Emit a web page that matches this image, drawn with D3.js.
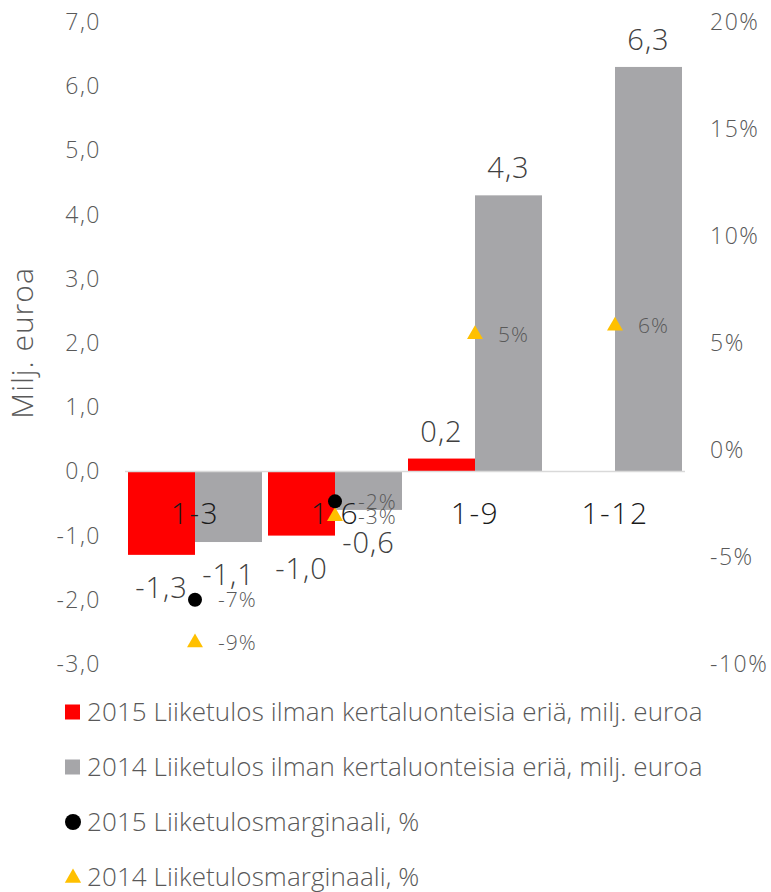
<!DOCTYPE html>
<html>
<head>
<meta charset="utf-8">
<script src="https://cdn.jsdelivr.net/npm/d3@7"></script>
<style>
  body { margin: 0; background: #fff; }
  svg text { font-family: "Open Sans", Lato, sans-serif; font-weight: 300; }
</style>
</head>
<body>
<svg id="chart" width="771" height="892"></svg>
<script>
// Chart data
const categories = ['1-3', '1-6', '1-9', '1-12'];
const tulos2015 = [-1.3, -1.0, 0.2, null];
const tulos2014 = [-1.1, -0.6, 4.3, 6.3];
const marginaali2015 = [-0.07, -0.024, null, null];
const marginaali2014 = [-0.09, -0.031, 0.054, 0.058];
const marginaaliLabels2015 = ['-7%', '-2%', null, null];
const marginaaliLabels2014 = ['-9%', '-3%', '5%', '6%'];
const leftTicks = [-3, -2, -1, 0, 1, 2, 3, 4, 5, 6, 7];
const rightTicks = [-0.10, -0.05, 0, 0.05, 0.10, 0.15, 0.20];
const legendItems = [
  { label: '2015 Liiketulos ilman kertaluonteisia eriä, milj. euroa', type: 'rect', color: '#ff0000' },
  { label: '2014 Liiketulos ilman kertaluonteisia eriä, milj. euroa', type: 'rect', color: '#a6a6a9' },
  { label: '2015 Liiketulosmarginaali, %', type: 'circle', color: '#000000' },
  { label: '2014 Liiketulosmarginaali, %', type: 'triangle', color: '#ffc000' },
];

const locale = d3.formatLocale({
  decimal: ',', thousands: ' ', grouping: [3], currency: ['', ' €'], minus: '-',
});
const fmt1 = locale.format('.1f');
const fmtPct = locale.format('.0%');

const svg = d3.select('#chart');
const textColor = '#595959';

// Scales
const x0 = d3.scaleBand().domain(categories).range([125, 685]).padding(0);
const x1 = d3.scaleBand().domain(['2015', '2014']).range([3, x0.bandwidth() - 3]);
const yLeft = d3.scaleLinear().domain([-3, 7]).range([664, 22]);
const yRight = d3.scaleLinear().domain([-0.10, 0.20]).range([664, 22]);

// Left axis labels
svg.append('g')
  .selectAll('text')
  .data(leftTicks)
  .join('text')
  .attr('x', 101)
  .attr('y', (d) => yLeft(d))
  .attr('dy', '0.35em')
  .attr('text-anchor', 'end')
  .style('font-size', '23px')
  .style('letter-spacing', '1.5px')
  .style('fill', textColor)
  .text((d) => fmt1(d));

// Right axis labels
svg.append('g')
  .selectAll('text')
  .data(rightTicks)
  .join('text')
  .attr('x', 710)
  .attr('y', (d) => yRight(d))
  .attr('dy', '0.35em')
  .attr('text-anchor', 'start')
  .style('font-size', '23px')
  .style('letter-spacing', '1.5px')
  .style('fill', textColor)
  .text((d) => fmtPct(d));

// Y axis title
svg.append('text')
  .attr('transform', `translate(33, ${yLeft(2)}) rotate(-90)`)
  .attr('text-anchor', 'middle')
  .style('font-size', '30px')
  .style('letter-spacing', '1px')
  .style('fill', textColor)
  .text('Milj. euroa');

// Bars
const barData = [];
categories.forEach((c, i) => {
  if (tulos2015[i] !== null) barData.push({ cat: c, key: '2015', value: tulos2015[i], color: '#ff0000' });
  if (tulos2014[i] !== null) barData.push({ cat: c, key: '2014', value: tulos2014[i], color: '#a6a6a9' });
});

svg.append('g')
  .selectAll('rect')
  .data(barData)
  .join('rect')
  .attr('x', (d) => x0(d.cat) + x1(d.key))
  .attr('width', x1.bandwidth())
  .attr('y', (d) => Math.min(yLeft(d.value), yLeft(0)))
  .attr('height', (d) => Math.abs(yLeft(d.value) - yLeft(0)))
  .attr('fill', (d) => d.color);

// Zero line
svg.append('line')
  .attr('x1', x0.range()[0])
  .attr('x2', x0.range()[1])
  .attr('y1', yLeft(0))
  .attr('y2', yLeft(0))
  .attr('stroke', '#d9d9d9')
  .attr('stroke-width', 1.5);

// Bar value labels
svg.append('g')
  .selectAll('text')
  .data(barData)
  .join('text')
  .attr('x', (d) => x0(d.cat) + x1(d.key) + x1.bandwidth() / 2)
  .attr('y', (d) => (d.value < 0 ? yLeft(d.value) + 43 : yLeft(d.value) - 17))
  .attr('text-anchor', 'middle')
  .style('font-size', '29px')
  .style('letter-spacing', '1px')
  .style('fill', '#404040')
  .text((d) => fmt1(d.value));

// Category labels
svg.append('g')
  .selectAll('text')
  .data(categories)
  .join('text')
  .attr('x', (d) => x0(d) + x0.bandwidth() / 2)
  .attr('y', 524)
  .attr('text-anchor', 'middle')
  .style('font-size', '30px')
  .style('letter-spacing', '1.5px')
  .style('fill', '#1a1a1a')
  .text((d) => d);

// Margin markers
const triangle = d3.symbol().type(d3.symbolTriangle).size(110);
const cx = (c) => x0(c) + x0.bandwidth() / 2;

const m2014 = categories
  .map((c, i) => ({ cat: c, value: marginaali2014[i], label: marginaaliLabels2014[i] }))
  .filter((d) => d.value !== null);
const m2015 = categories
  .map((c, i) => ({ cat: c, value: marginaali2015[i], label: marginaaliLabels2015[i] }))
  .filter((d) => d.value !== null);

svg.append('g')
  .selectAll('path')
  .data(m2014)
  .join('path')
  .attr('d', triangle)
  .attr('transform', (d) => `translate(${cx(d.cat)}, ${yRight(d.value)})`)
  .attr('fill', '#ffc000');

svg.append('g')
  .selectAll('circle')
  .data(m2015)
  .join('circle')
  .attr('cx', (d) => cx(d.cat))
  .attr('cy', (d) => yRight(d.value))
  .attr('r', 7)
  .attr('fill', '#000');

svg.append('g')
  .selectAll('text')
  .data(m2015.concat(m2014))
  .join('text')
  .attr('x', (d) => cx(d.cat) + 23)
  .attr('y', (d) => yRight(d.value))
  .attr('dy', '0.35em')
  .style('font-size', '21px')
  .style('letter-spacing', '1px')
  .style('fill', textColor)
  .text((d) => d.label);

// Legend
const legend = svg.append('g')
  .selectAll('g')
  .data(legendItems)
  .join('g')
  .attr('transform', (d, i) => `translate(0, ${712 + i * 55})`);

legend.filter((d) => d.type === 'rect')
  .append('rect')
  .attr('x', 65)
  .attr('y', -7.5)
  .attr('width', 15)
  .attr('height', 15)
  .attr('fill', (d) => d.color);

legend.filter((d) => d.type === 'circle')
  .append('circle')
  .attr('cx', 73)
  .attr('cy', 0)
  .attr('r', 8)
  .attr('fill', (d) => d.color);

legend.filter((d) => d.type === 'triangle')
  .append('path')
  .attr('d', d3.symbol().type(d3.symbolTriangle).size(115))
  .attr('transform', 'translate(73, 1)')
  .attr('fill', (d) => d.color);

legend.append('text')
  .attr('x', 87)
  .attr('y', 0)
  .attr('dy', '0.36em')
  .style('font-size', '26px')
  .style('letter-spacing', '0.1px')
  .style('fill', textColor)
  .text((d) => d.label);
</script>
</body>
</html>
